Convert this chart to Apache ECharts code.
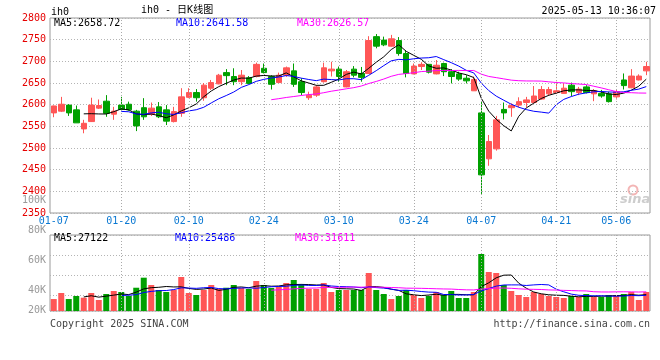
<!DOCTYPE html>
<html>
<head>
<meta charset="utf-8">
<script src="https://cdn.jsdelivr.net/npm/echarts@6/dist/echarts.min.js"></script>
<style>html,body{margin:0;padding:0;background:#fff}#c{width:660px;height:360px}</style>
</head>
<body>
<div id="c"></div>
<script>
// ---- data ----
const dates = [
 '01-07','01-08','01-09','01-10','01-13','01-14','01-15','01-16','01-17','01-20',
 '01-21','01-22','01-23','01-24','01-27','02-05','02-06','02-07','02-10','02-11',
 '02-12','02-13','02-14','02-17','02-18','02-19','02-20','02-21','02-24','02-25',
 '02-26','02-27','02-28','03-03','03-04','03-05','03-06','03-07','03-10','03-11',
 '03-12','03-13','03-14','03-17','03-18','03-19','03-20','03-21','03-24','03-25',
 '03-26','03-27','03-28','03-31','04-01','04-02','04-03','04-07','04-08','04-09',
 '04-10','04-11','04-14','04-15','04-16','04-17','04-18','04-21','04-22','04-23',
 '04-24','04-25','04-28','04-29','04-30','05-06','05-07','05-08','05-09','05-12'
];
const openP = [
 2581,2585,2599,2588,2544,2561,2592,2608,2578,2599,
 2601,2585,2593,2578,2595,2588,2561,2580,2617,2628,
 2616,2638,2648,2674,2665,2653,2662,2665,2684,2665,
 2651,2668,2678,2653,2616,2622,2653,2678,2682,2641,
 2682,2672,2672,2757,2749,2735,2748,2718,2671,2688,
 2693,2671,2695,2676,2671,2661,2632,2581,2475,2498,
 2589,2593,2599,2605,2605,2613,2625,2628,2626,2645,
 2628,2641,2625,2626,2625,2618,2657,2639,2657,2678
];
const closeP = [
 2597,2601,2581,2558,2557,2599,2598,2580,2585,2589,
 2588,2551,2572,2592,2572,2562,2584,2618,2628,2616,
 2645,2651,2668,2667,2653,2668,2649,2693,2674,2647,
 2668,2685,2647,2628,2622,2641,2685,2682,2665,2676,
 2668,2663,2748,2735,2738,2752,2718,2672,2689,2693,
 2675,2691,2676,2665,2659,2655,2658,2438,2515,2565,
 2581,2598,2607,2611,2620,2635,2635,2632,2638,2630,
 2636,2628,2632,2620,2607,2630,2644,2666,2666,2688
];
const lowP = [
 2571,2583,2574,2558,2534,2560,2590,2572,2565,2587,
 2586,2539,2565,2574,2569,2553,2559,2572,2615,2607,
 2609,2634,2647,2645,2645,2645,2647,2663,2672,2635,
 2650,2664,2641,2622,2611,2618,2651,2665,2653,2640,
 2663,2653,2671,2730,2735,2734,2713,2663,2670,2680,
 2672,2670,2666,2649,2655,2649,2632,2394,2459,2494,
 2566,2572,2594,2594,2603,2611,2620,2625,2625,2620,
 2622,2626,2608,2616,2605,2612,2635,2638,2656,2668
];
const highP = [
 2598,2618,2601,2598,2565,2616,2612,2622,2595,2618,
 2607,2588,2615,2605,2606,2599,2595,2638,2638,2636,
 2650,2657,2671,2682,2684,2680,2666,2697,2695,2668,
 2674,2688,2695,2661,2630,2645,2697,2699,2688,2680,
 2689,2687,2758,2763,2757,2761,2756,2726,2695,2698,
 2694,2703,2697,2682,2676,2668,2665,2607,2530,2574,
 2605,2603,2617,2618,2643,2643,2641,2653,2649,2651,
 2641,2645,2636,2634,2630,2634,2672,2682,2670,2699
];
const volume = [
 19800,29800,19800,24800,22000,29800,18200,28100,33100,31400,
 24800,38500,55100,43000,34700,31400,34700,56200,29800,26500,
 34700,43000,36400,38500,43000,38000,36400,49600,43000,38000,
 39700,46300,51300,44700,36400,36400,46300,31400,34700,34700,
 34700,34700,62900,34700,28100,19800,24800,34700,26500,21500,
 24800,31400,26500,33100,21500,21500,31400,94300,64500,62900,
 43000,33100,26500,23200,31400,28100,24800,23200,21500,24800,
 23200,28100,23200,23200,26500,26500,28100,31400,18200,31400
];
const labelDates = ['01-07','01-20','02-10','02-24','03-10','03-24','04-07','04-21','05-06'];
const gridDates = ['01-20','02-10','02-24','03-10','03-24','04-07','04-21','05-06'];
const priceTicks = {min: 2350, max: 2800, step: 50};
const volTickLabels = {min: 20000, max: 100000, step: 20000};
const maText = ['MA5:2658.72','MA10:2641.58','MA30:2626.57'];
const volMaText = ['MA5:27122','MA10:25486','MA30:31611'];
const titleText = 'ih0 - 日K线图';
const stampText = '2025-05-13 10:36:07';

// ---- helpers ----
function movingAvg(arr, n){
  return arr.map((v,i)=>{
    if(i<n-1) return '-';
    let s=0; for(let k=i-n+1;k<=i;k++) s+=arr[k];
    return +(s/n).toFixed(2);
  });
}
const UP='#ff5656', DOWN='#00a000';
const MONO='"DejaVu Sans Mono", "Liberation Mono", monospace';
const candle = dates.map((d,i)=>[openP[i],closeP[i],lowP[i],highP[i]]);
const volBars = volume.map((v,i)=>({value:v,itemStyle:{color: closeP[i]>=openP[i]?UP:DOWN}}));
const vLine = {
  silent:true, symbol:['none','none'], label:{show:false},
  lineStyle:{type:[1,2], color:'#aaaaaa', width:1},
  data: gridDates.map(d=>({xAxis:d}))
};
const dotted = {type:[1,2], color:'#b4b4b4', width:1};

const chart = echarts.init(document.getElementById('c'), null, {renderer:'canvas'});
chart.setOption({
  animation:false,
  backgroundColor:'#ffffff',
  grid:[
    {left:50, right:10, top:18, height:195, show:true, borderColor:'#9a9a9a', borderWidth:1},
    {left:50, right:10, top:235, height:76, show:true, borderColor:'#9a9a9a', borderWidth:1},
    {left:50, right:10, top:200.5, height:120, show:false}
  ],
  xAxis:[
    {type:'category', gridIndex:0, data:dates, boundaryGap:true,
     axisLine:{show:false}, axisTick:{show:false}, splitLine:{show:false},
     axisLabel:{show:true, interval:(i,v)=>labelDates.indexOf(v)>=0, color:'#0a78d2',
       fontFamily:MONO, fontSize:10, margin:3}},
    {type:'category', gridIndex:1, data:dates, boundaryGap:true,
     axisLine:{show:false}, axisTick:{show:false}, axisLabel:{show:false}, splitLine:{show:false}},
    {type:'value', gridIndex:2, show:false, min:0, max:1}
  ],
  yAxis:[
    {type:'value', gridIndex:0, min:priceTicks.min, max:priceTicks.max, interval:priceTicks.step,
     axisLine:{show:false}, axisTick:{show:false},
     axisLabel:{color:'#e60000', fontFamily:MONO, fontSize:10, margin:4, padding:[0,0,4,0],
       formatter:v=>String(v)},
     splitLine:{show:true, lineStyle:dotted}},
    {type:'value', gridIndex:1, min:0, max:125700, show:false, splitLine:{show:false}},
    {type:'value', gridIndex:1, min:0, max:76, interval:20, inverse:true,
     axisLine:{show:false}, axisTick:{show:false}, axisLabel:{show:false},
     splitLine:{show:true, lineStyle:dotted}},
    {type:'value', gridIndex:2, min:volTickLabels.min, max:volTickLabels.max, interval:volTickLabels.step,
     axisLine:{show:false}, axisTick:{show:false}, splitLine:{show:false},
     axisLabel:{color:'#9a9a9a', fontFamily:MONO, fontSize:10, margin:4,
       formatter:v=> v===volTickLabels.min ? '{lo|'+(v/1000)+'K}' : (v/1000)+'K',
       rich:{lo:{color:'#9a9a9a', fontFamily:MONO, fontSize:10, padding:[0,0,20,0]}}}}
  ],
  series:[
    {name:'K', type:'candlestick', xAxisIndex:0, yAxisIndex:0, data:candle, barWidth:6,
     itemStyle:{color:UP, color0:DOWN, borderColor:UP, borderColor0:DOWN, borderWidth:1},
     markLine:vLine},
    {name:'MA5', type:'line', xAxisIndex:0, yAxisIndex:0, data:movingAvg(closeP,5), symbol:'none',
     lineStyle:{color:'#000000', width:1}},
    {name:'MA10', type:'line', xAxisIndex:0, yAxisIndex:0, data:movingAvg(closeP,10), symbol:'none',
     lineStyle:{color:'#0000ff', width:1}},
    {name:'MA30', type:'line', xAxisIndex:0, yAxisIndex:0, data:movingAvg(closeP,30), symbol:'none',
     lineStyle:{color:'#ff00ff', width:1}},
    {name:'VOL', type:'bar', xAxisIndex:1, yAxisIndex:1, data:volBars, barWidth:6, markLine:vLine},
    {name:'VMA5', type:'line', xAxisIndex:1, yAxisIndex:1, data:movingAvg(volume,5), symbol:'none',
     lineStyle:{color:'#000000', width:1}},
    {name:'VMA10', type:'line', xAxisIndex:1, yAxisIndex:1, data:movingAvg(volume,10), symbol:'none',
     lineStyle:{color:'#0000ff', width:1}},
    {name:'VMA30', type:'line', xAxisIndex:1, yAxisIndex:1, data:movingAvg(volume,30), symbol:'none',
     lineStyle:{color:'#ff00ff', width:1}}
  ],
  graphic:[
    {type:'text', silent:true, style:{text:'ih0', x:51, y:12.5, fill:'#000', font:'10px '+MONO, textVerticalAlign:'middle'}},
    {type:'text', silent:true, style:{text:titleText, x:141, y:10.5, fill:'#000', font:'10px "DejaVu Sans Mono", "Noto Sans CJK SC"', textVerticalAlign:'middle'}},
    {type:'text', silent:true, style:{text:stampText, x:656, y:11, fill:'#000', font:'10px '+MONO, textAlign:'right', textVerticalAlign:'middle'}},
    {type:'text', silent:true, style:{text:maText[0], x:54, y:23.5, fill:'#000000', font:'10px '+MONO, textVerticalAlign:'middle'}},
    {type:'text', silent:true, style:{text:maText[1], x:176, y:23.5, fill:'#0000ff', font:'10px '+MONO, textVerticalAlign:'middle'}},
    {type:'text', silent:true, style:{text:maText[2], x:297, y:23.5, fill:'#ff00ff', font:'10px '+MONO, textVerticalAlign:'middle'}},
    {type:'text', silent:true, style:{text:volMaText[0], x:54, y:238.5, fill:'#000000', font:'10px '+MONO, textVerticalAlign:'middle'}},
    {type:'text', silent:true, style:{text:volMaText[1], x:175, y:238.5, fill:'#0000ff', font:'10px '+MONO, textVerticalAlign:'middle'}},
    {type:'text', silent:true, style:{text:volMaText[2], x:295, y:238.5, fill:'#ff00ff', font:'10px '+MONO, textVerticalAlign:'middle'}},
    {type:'text', silent:true, style:{text:'Copyright 2025 SINA.COM', x:50, y:324, fill:'#444', font:'10px '+MONO, textVerticalAlign:'middle'}},
    {type:'text', silent:true, style:{text:'http://finance.sina.com.cn', x:650, y:324, fill:'#444', font:'10px '+MONO, textAlign:'right', textVerticalAlign:'middle'}},
    {type:'circle', silent:true, shape:{cx:633, cy:190, r:4.5}, style:{fill:'none', stroke:'#f3b5b5', lineWidth:2}},
    {type:'text', silent:true, style:{text:'sina', x:620, y:200, fill:'#cdcdcd', font:'italic bold 13px "DejaVu Sans"', textVerticalAlign:'middle'}}
  ]
});
</script>
</body>
</html>
